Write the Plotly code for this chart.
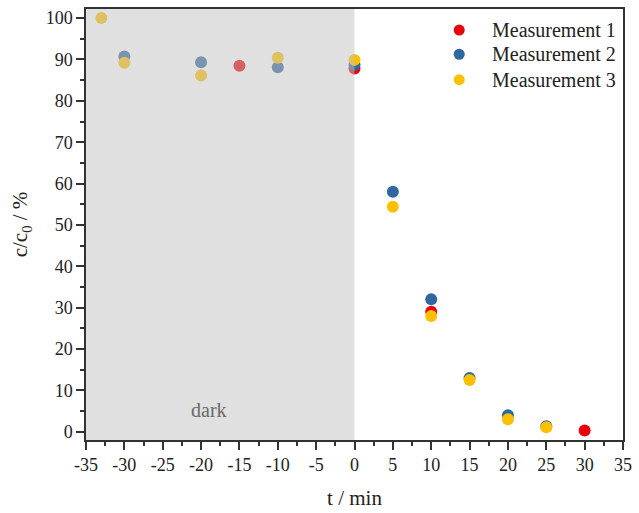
import plotly.graph_objects as go

t1 = [-15, 0, 10, 30]
c1 = [88.5, 87.8, 29.0, 0.3]
t2 = [-30, -20, -10, 0, 5, 10, 15, 20, 25]
c2 = [90.7, 89.3, 88.1, 88.7, 58.0, 32.0, 13.0, 4.0, 1.3]
t3 = [-33, -30, -20, -10, 0, 5, 10, 15, 20, 25]
c3 = [100.0, 89.2, 86.1, 90.4, 89.9, 54.4, 28.0, 12.5, 3.0, 1.1]

x_ticks = list(range(-35, 40, 5))
x_ticktext = [str(v) for v in x_ticks]

names = ["Measurement 1", "Measurement 2", "Measurement 3"]
colors = ["#e8000b", "#2f67a0", "#fcc000"]

font = "Liberation Serif"

fig = go.Figure()
for t, c, n, col in zip([t1, t2, t3], [c1, c2, c3], names, colors):
    fig.add_trace(go.Scatter(x=t, y=c, mode="markers", name=n, showlegend=False,
                             marker=dict(color=col, size=12, line=dict(width=0))))

# manual legend (tighter row spacing than plotly's built-in legend)
leg_x_marker = 0.695
leg_x_text = 0.752
leg_rows = [0.951, 0.895, 0.836]
for n, col, ly in zip(names, colors, leg_rows):
    fig.add_trace(go.Scatter(x=[leg_x_marker], y=[ly], xaxis="x2", yaxis="y2",
                             mode="markers", showlegend=False, hoverinfo="skip",
                             marker=dict(color=col, size=11, line=dict(width=0))))
    fig.add_annotation(xref="paper", yref="paper", x=leg_x_text, y=ly, text=n,
                       xanchor="left", yanchor="middle", showarrow=False,
                       font=dict(family=font, size=20, color="#222"))

fig.add_shape(type="rect", xref="x", yref="paper", x0=-35, x1=0, y0=0, y1=1,
              fillcolor="#c1c1c1", opacity=0.5, line=dict(width=0), layer="above")
fig.add_annotation(x=-19, y=5.3, text="dark", showarrow=False,
                   font=dict(family=font, size=20, color="#6a6a6a"))

axis_common = dict(showline=True, linecolor="#333", linewidth=1.5, mirror=True,
                   ticks="outside", ticklen=8, tickwidth=1.5, tickcolor="#333",
                   showgrid=False, zeroline=False,
                   tickfont=dict(family=font, size=18, color="#222"))

fig.update_layout(
    xaxis=dict(range=[-35, 35], tickmode="array", tickvals=x_ticks, ticktext=x_ticktext,
               minor=dict(dtick=2.5, tick0=-35, ticks="outside", ticklen=4, tickcolor="#333", tickwidth=1.5),
               title=dict(text="t / min", font=dict(family=font, size=21, color="#222"), standoff=16),
               **axis_common),
    yaxis=dict(range=[-2, 102.2], dtick=10, tick0=0,
               minor=dict(dtick=5, ticks="outside", ticklen=4, tickcolor="#333", tickwidth=1.5),
               title=dict(text="c/c<sub>0</sub> / %", font=dict(family=font, size=21, color="#222"), standoff=12),
               **axis_common),
    xaxis2=dict(overlaying="x", range=[0, 1], visible=False, fixedrange=True),
    yaxis2=dict(overlaying="y", range=[0, 1], visible=False, fixedrange=True),
    width=639, height=513,
    margin=dict(l=86, r=12, t=7, b=71),
    font=dict(family=font, color="#222"),
    plot_bgcolor="white", paper_bgcolor="white",
    showlegend=False,
)

fig.write_html("out.html")
